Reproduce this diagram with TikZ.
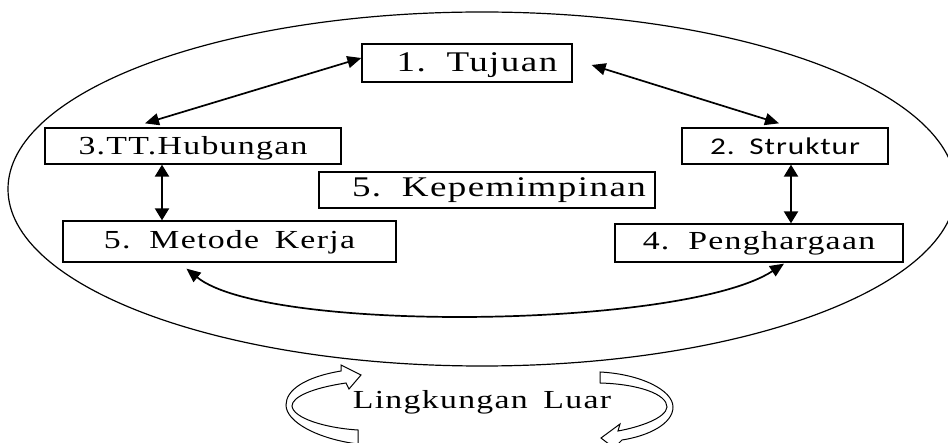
\documentclass[tikz,border=0pt]{standalone}
\usepackage{fontspec}
\setmainfont[FakeStretch=1.3,LetterSpace=5,WordSpace=1.6]{Liberation Serif}
\newfontfamily\strukfont[FakeStretch=1.3,LetterSpace=4,WordSpace=1.5]{Carlito}
\usetikzlibrary{arrows.meta,calc}

\begin{document}
\begin{tikzpicture}[x=1pt,y=-1pt,
  box/.style={draw,line width=1.3pt,rectangle,inner sep=0pt,
    text height=20pt,text depth=4pt,font=\fontsize{26}{30}\selectfont},
  bigtext/.style={font=\fontsize{28.5}{32}\selectfont},
  link/.style={line width=1.7pt,
    {Triangle[length=14pt,width=12pt]}-{Triangle[length=14pt,width=12pt]}},
  uplink/.style={line width=2.2pt,
    {Triangle[length=12pt,width=14pt]}-{Triangle[length=12pt,width=14pt]}},
  turn/.style={draw,fill=white,line width=1pt,line join=miter}
]
\useasboundingbox (0,0) rectangle (948,443);

% the organisation boundary
\draw[line width=1.2pt] (482,189) ellipse [x radius=474pt, y radius=177pt];

% the six elements
\node[box,bigtext,text depth=2pt,minimum width=210pt,minimum height=38pt] (tuj) at (467,63)
  {\hspace*{20pt}1. Tujuan};
\node[box,text depth=2pt,minimum width=296pt,minimum height=36pt] (hub) at (193,146)
  {3.TT.Hubungan};
\node[box,bigtext,text depth=6pt,minimum width=336pt,minimum height=36pt] (kep) at (487,190)
  {\hspace*{24pt}5. Kepemimpinan};
\node[box,text depth=5pt,minimum width=333pt,minimum height=41pt] (met) at (229.5,241.5)
  {5. Metode Kerja};
\node[box,font=\strukfont\fontsize{24}{28}\selectfont,text depth=2pt,
  minimum width=206pt,minimum height=36pt] (str) at (785,146)
  {2. Struktur};
\node[box,text depth=6pt,minimum width=288pt,minimum height=38pt] (pen) at (759,243)
  {4. Penghargaan};

% relations between the elements
\draw[link] ($(hub.north)+(-48,-4)$) -- ($(tuj.west)+(0,-5)$);
\draw[link] ($(tuj.east)+(19,2)$) -- ($(str.north)+(-6,-4)$);
\coordinate (hubfoot) at ($(hub.south)+(-31,0)$);
\draw[uplink] (hubfoot) -- (hubfoot |- met.north);
\coordinate (strfoot) at ($(str.south)+(6,0)$);
\draw[uplink] (strfoot) -- (strfoot |- pen.north);
\draw[link] ($(met.south)+(-43,6)$) .. controls +(80,65) and +(-100,65) .. ($(pen.south)+(25,1)$);

% the environment with its two turning arrows
\node[font=\fontsize{26}{30}\selectfont,anchor=base] (luar) at (482,409) {Lingkungan Luar};
\draw[turn] (361,375) -- (349,389) -- (346,383)
  .. controls (312,388) and (292,397) .. (292,406)
  .. controls (293,418) and (325,428) .. (358,430)
  -- (358,448) -- (358,444)
  .. controls (318,439) and (286,422) .. (286,405)
  .. controls (286,390) and (305,377) .. (341,371)
  -- (341,365) -- cycle;
\draw[turn] (600,372)
  .. controls (640,374) and (673,390) .. (673,407)
  .. controls (673,424) and (648,436) .. (622,440)
  -- (614,448) -- (601,438) -- (620,424) -- (618,431)
  .. controls (640,427) and (666,418) .. (667,407)
  .. controls (667,394) and (638,384) .. (600,383) -- cycle;
\end{tikzpicture}
\end{document}
